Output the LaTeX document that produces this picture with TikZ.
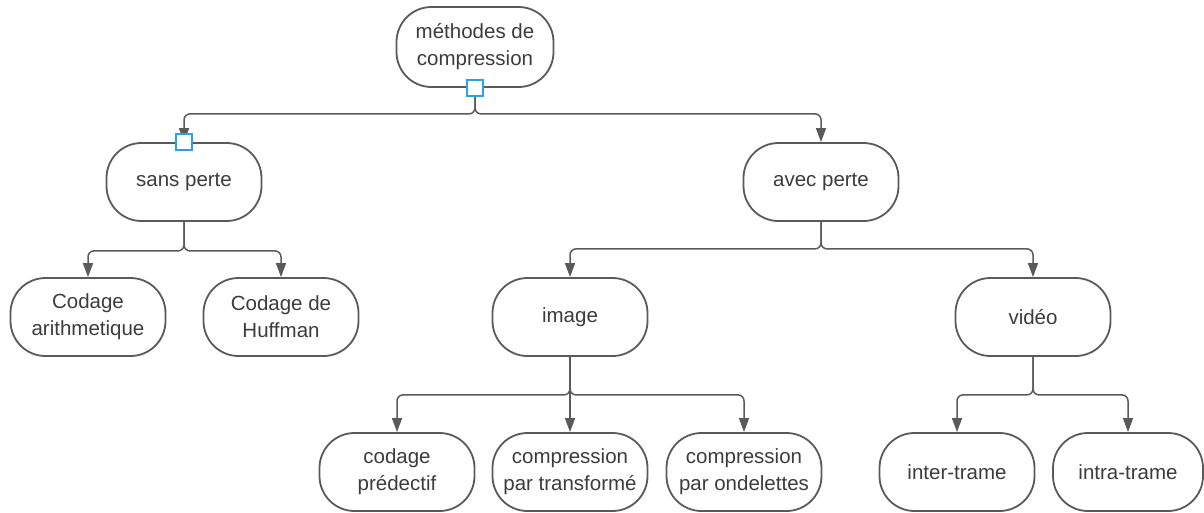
\documentclass[tikz,border=0pt]{standalone}
\usepackage{fontspec}
\setmainfont{Liberation Sans}
\usetikzlibrary{arrows.meta}
\definecolor{linegray}{HTML}{5A5A5A}
\definecolor{textgray}{HTML}{3C3C3C}
\definecolor{handle}{HTML}{29A3E3}

\begin{document}
\begin{tikzpicture}[x=1pt,y=-1pt,
  box/.style={draw=linegray, line width=1.8pt, rounded corners=35pt,
    minimum width=155pt, minimum height=78pt, align=center, text=textgray,
    font=\fontsize{20.5}{27}\selectfont, inner sep=0pt, fill=white},
  link/.style={draw=linegray, line width=1.5pt, rounded corners=6pt,
    -{Triangle[length=14pt,width=10pt]}},
  handlebox/.style={draw=handle, fill=white, line width=1.6pt,
    minimum size=16pt, inner sep=0pt}]
\useasboundingbox (0,0) rectangle (1204,512);

% root
\node[box, minimum width=157pt, minimum height=80pt] (root) at (475,47)
  {\raisebox{9pt}{\begin{tabular}{@{}c@{}}méthodes de\\compression\end{tabular}}};

% first level
\node[box] (sans) at (184,182) {sans perte};
\node[box] (avec) at (821,182) {avec perte};

% lossless methods
\node[box] (arith) at (88,317) {Codage\\arithmetique};
\node[box] (huff)  at (281,317) {Codage de\\Huffman};

% lossy methods
\node[box] (image) at (570,317) {image};
\node[box] (video) at (1033,317) {vidéo};

% image techniques
\node[box] (pred)   at (397,472) {codage\\prédectif};
\node[box] (transf) at (570,472) {compression\\par transformé};
\node[box] (ondel)  at (744,472) {compression\\par ondelettes};

% video techniques
\node[box] (inter) at (957,472) {inter-trame};
\node[box, minimum width=150pt] (intra) at (1128,472) {intra-trame};

% connectors
\draw[link] (root.south) -- ++(0,26) -| (sans.north);
\draw[link] (root.south) -- ++(0,26) -| (avec.north);
\draw[link] (sans.south) -- ++(0,29) -| (arith.north);
\draw[link] (sans.south) -- ++(0,29) -| (huff.north);
\draw[link] (avec.south) -- ++(0,27) -| (image.north);
\draw[link] (avec.south) -- ++(0,27) -| (video.north);
\draw[link] (image.south) -- ++(0,38) -| (pred.north);
\draw[link] (image.south) -- (transf.north);
\draw[link] (image.south) -- ++(0,38) -| (ondel.north);
\draw[link] (video.south) -- ++(0,38) -| (inter.north);
\draw[link] (video.south) -- ++(0,38) -| (intra.north);

% selection handles
\node[handlebox] (h1) at (root.south) {};
\node[handlebox] (h2) at (sans.north) {};
\end{tikzpicture}
\end{document}
